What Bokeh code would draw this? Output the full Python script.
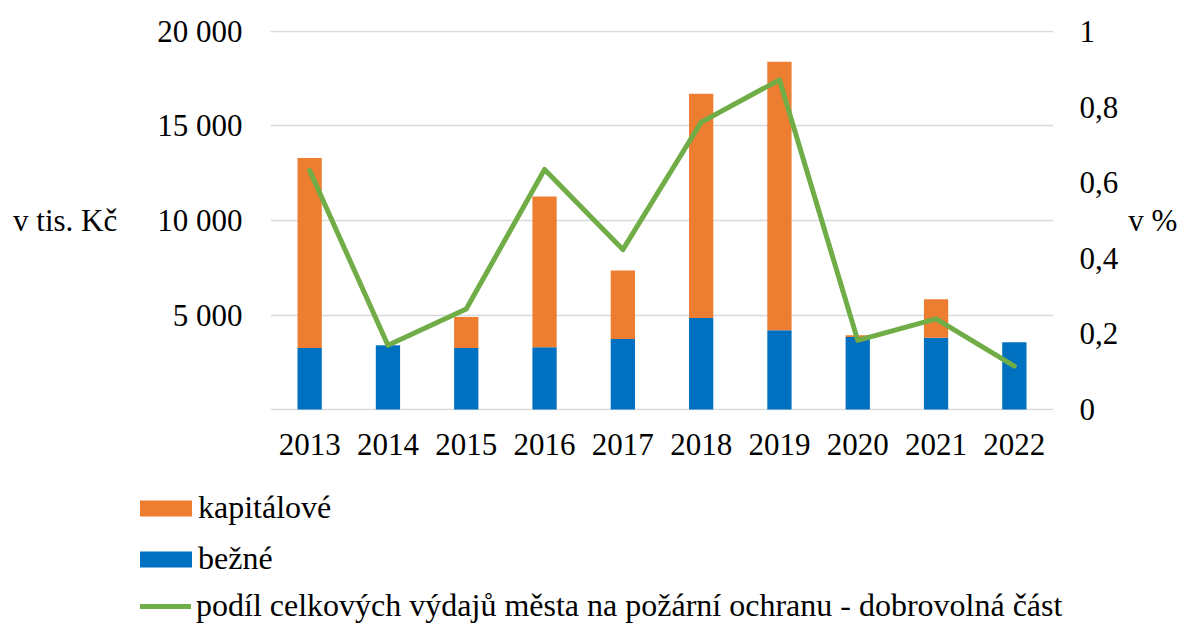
from bokeh.plotting import figure
from bokeh.models import (Range1d, LinearAxis, FixedTicker, CustomJSTickFormatter,
                          Legend, LegendItem, FactorRange)
from bokeh.layouts import column
from bokeh.embed import file_html
from bokeh.resources import INLINE

years = ["2013", "2014", "2015", "2016", "2017", "2018", "2019", "2020", "2021", "2022"]
bezne = [3250, 3400, 3250, 3300, 3730, 4840, 4190, 3840, 3800, 3560]
kapitalove = [10050, 0, 1650, 7970, 3630, 11870, 14210, 90, 2030, 0]
podil = [0.632, 0.170, 0.266, 0.635, 0.423, 0.760, 0.872, 0.183, 0.240, 0.115]

left_ticks = [0, 5000, 10000, 15000, 20000]
right_ticks = [0, 0.2, 0.4, 0.6, 0.8, 1.0]

FONT = "Liberation Serif"
FS = "31px"
LFS = "32px"
ORANGE, BLUE, GREEN = "#ED7D31", "#0070C0", "#70AD47"

p = figure(x_range=FactorRange(*years, range_padding=0), y_range=Range1d(-50, 20050),
           width=1186, height=470, output_backend="svg", toolbar_location=None,
           min_border_left=270, min_border_right=133, min_border_top=30, min_border_bottom=60)
p.outline_line_color = None
p.frame_align = False
p.extra_y_ranges = {"pct": Range1d(-0.0025, 1.0025)}

src = dict(year=years, bezne=bezne, kapitalove=kapitalove)
bars = p.vbar_stack(["bezne", "kapitalove"], x="year", width=0.31, source=src,
                    color=[BLUE, ORANGE], line_color=None)
ln = p.line(years, podil, y_range_name="pct", line_color=GREEN, line_width=5,
            line_join="round", line_cap="round")

# left axis
ax = p.yaxis[0]
ax.ticker = FixedTicker(ticks=left_ticks)
ax.formatter = CustomJSTickFormatter(code="""
if (tick == 0) return '';
return Math.round(tick).toString().replace(/\\B(?=(\\d{3})+(?!\\d))/g, ' ');
""")
ax.axis_line_color = None
ax.major_tick_line_color = None
ax.minor_tick_line_color = None
ax.major_label_standoff = 22
ax.major_label_text_font = FONT
ax.major_label_text_font_size = FS
ax.major_label_text_color = "#000000"
ax.axis_label = "v tis. Kč"
ax.axis_label_text_font = FONT
ax.axis_label_text_font_size = FS
ax.axis_label_text_font_style = "normal"
ax.axis_label_text_color = "#000000"
ax.axis_label_standoff = 37
ax.axis_label_orientation = "horizontal"

# right axis
rax = LinearAxis(y_range_name="pct")
rax.ticker = FixedTicker(ticks=right_ticks)
rax.formatter = CustomJSTickFormatter(code="""
return String(Math.round(tick * 10) / 10).replace('.', ',');
""")
rax.axis_line_color = None
rax.major_tick_line_color = None
rax.minor_tick_line_color = None
rax.major_label_standoff = 20
rax.major_label_text_font = FONT
rax.major_label_text_font_size = FS
rax.major_label_text_color = "#000000"
rax.axis_label = "v %"
rax.axis_label_text_font = FONT
rax.axis_label_text_font_size = FS
rax.axis_label_text_font_style = "normal"
rax.axis_label_text_color = "#000000"
rax.axis_label_standoff = 7
rax.axis_label_orientation = "horizontal"
p.add_layout(rax, "right")

# x axis
xa = p.xaxis[0]
xa.axis_line_color = None
xa.major_tick_line_color = None
xa.minor_tick_line_color = None
xa.major_label_standoff = 17
xa.major_label_text_font = FONT
xa.major_label_text_font_size = FS
xa.major_label_text_color = "#000000"

p.xgrid.grid_line_color = None
p.ygrid.ticker = FixedTicker(ticks=left_ticks)
p.ygrid.grid_line_color = "#D9D9D9"
p.ygrid.grid_line_width = 1.5

# legend strip below the chart (hidden copies of the series provide the legend glyphs)
lf = figure(width=1186, height=154, output_backend="svg", toolbar_location=None,
            x_range=FactorRange(*years), y_range=Range1d(0, 20000),
            x_axis_location=None, y_axis_location=None,
            min_border=0, min_border_left=0, min_border_right=0,
            min_border_top=0, min_border_bottom=0)
lf.outline_line_color = None
lf.frame_align = False
lf.xgrid.grid_line_color = None
lf.ygrid.grid_line_color = None
lbars = lf.vbar_stack(["bezne", "kapitalove"], x="year", width=0.31, source=src,
                      color=[BLUE, ORANGE], line_color=None)
lln = lf.line(years, podil, line_color=GREEN, line_width=5, line_cap="round")
for r in list(lbars) + [lln]:
    r.visible = False


def style(lg):
    lg.padding = 0
    lg.margin = 0
    lg.border_line_color = None
    lg.background_fill_alpha = 0
    lg.inactive_fill_alpha = 0
    lg.label_text_font = FONT
    lg.label_text_font_size = LFS
    lg.label_text_color = "#000000"
    lg.label_height = 20
    return lg


leg_bars = style(Legend(items=[
    LegendItem(label="kapitálové", renderers=[lbars[1]]),
    LegendItem(label="bežné", renderers=[lbars[0]]),
], location=(133, 47), orientation="vertical"))
leg_bars.glyph_width = 65
leg_bars.glyph_height = 20
leg_bars.label_standoff = -2
leg_bars.spacing = 14

leg_line = style(Legend(items=[
    LegendItem(label="podíl celkových výdajů města na požární ochranu - dobrovolná část", renderers=[lln]),
], location=(140, 0), orientation="vertical"))
leg_line.glyph_width = 51
leg_line.glyph_height = 16
leg_line.label_standoff = 5

lf.add_layout(leg_bars, "center")
lf.add_layout(leg_line, "center")

layout = column(p, lf, spacing=0)
open("out.html", "w").write(file_html(layout, INLINE))
